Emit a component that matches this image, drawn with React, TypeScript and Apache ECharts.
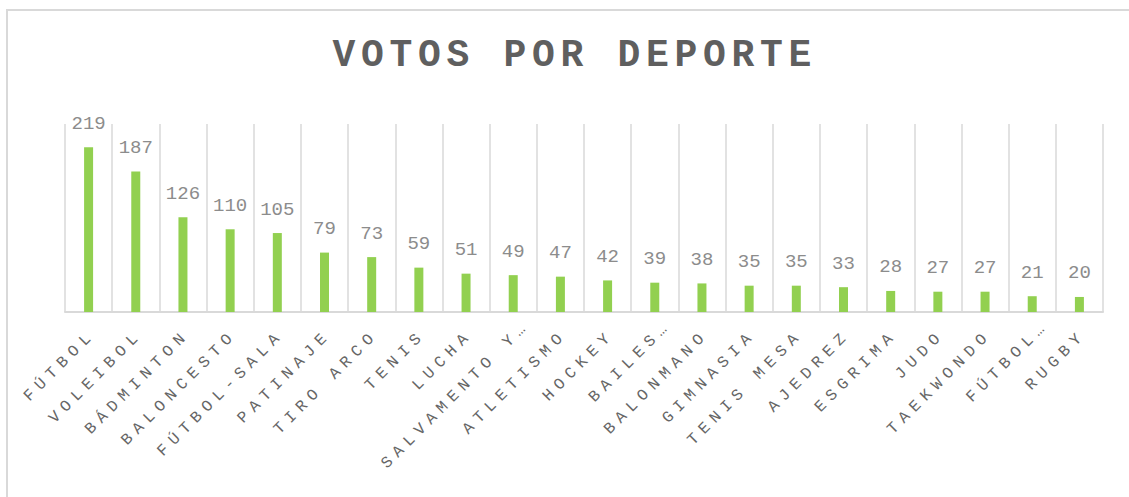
import React, { useEffect, useRef } from "react";
import * as echarts from "echarts";

const TITLE = "VOTOS POR DEPORTE";

const categories: string[] = [
  "FÚTBOL",
  "VOLEIBOL",
  "BÁDMINTON",
  "BALONCESTO",
  "FÚTBOL-SALA",
  "PATINAJE",
  "TIRO ARCO",
  "TENIS",
  "LUCHA",
  "SALVAMENTO Y…",
  "ATLETISMO",
  "HOCKEY",
  "BAILES…",
  "BALONMANO",
  "GIMNASIA",
  "TENIS MESA",
  "AJEDREZ",
  "ESGRIMA",
  "JUDO",
  "TAEKWONDO",
  "FÚTBOL…",
  "RUGBY",
];

const votes: number[] = [
  219, 187, 126, 110, 105, 79, 73, 59, 51, 49, 47, 42, 39, 38, 35, 35, 33, 28, 27, 27, 21, 20,
];

const TITLE_SPACING = 5.7;
const CAT_SPACING = 6;

export default function App() {
  const ref = useRef<HTMLDivElement>(null);

  useEffect(() => {
    const el = ref.current!;
    const chart = echarts.init(el, null, { renderer: "svg" });

    const applySpacing = () => {
      el.querySelectorAll("text").forEach((t) => {
        const s = t.textContent || "";
        if (s === TITLE) {
          (t as SVGTextElement).style.letterSpacing = TITLE_SPACING + "px";
          t.setAttribute("dx", String(TITLE_SPACING / 2));
        } else if (categories.includes(s)) {
          (t as SVGTextElement).style.letterSpacing = CAT_SPACING + "px";
          const extra = s.endsWith("…") ? 14 : 0;
          t.setAttribute("dx", String(CAT_SPACING + extra));
        }
      });
    };

    chart.on("rendered", applySpacing);

    chart.setOption({
      animation: false,
      backgroundColor: "#ffffff",
      graphic: [
        {
          type: "rect",
          shape: { x: 7, y: 10, width: 1300, height: 700 },
          style: { fill: "none", stroke: "#d9d9d9", lineWidth: 2 },
          silent: true,
        },
        {
          type: "text",
          x: 572,
          y: 55,
          style: {
            text: TITLE,
            fill: "#5f5f5f",
            font: 'bold 38px "Liberation Mono", "Courier New", monospace',
            textAlign: "center",
            textVerticalAlign: "middle",
          },
        },
      ],
      grid: { left: 65, right: 26, top: 124, bottom: 185 },
      xAxis: {
        type: "category",
        data: categories,
        axisTick: { show: false },
        axisLine: { show: true, lineStyle: { color: "#d9d9d9", width: 2 } },
        splitLine: { show: true, lineStyle: { color: "#d9d9d9", width: 1.5 } },
        axisLabel: {
          interval: 0,
          rotate: 45,
          margin: 25,
          color: "#666666",
          fontFamily: '"Liberation Mono", "Courier New", monospace',
          fontSize: 16,
        },
      },
      yAxis: {
        type: "value",
        min: 0,
        max: 250,
        show: false,
        splitLine: { show: false },
      },
      series: [
        {
          type: "bar",
          data: votes,
          barWidth: 9,
          itemStyle: { color: "#92d050" },
          label: {
            show: true,
            position: "top",
            distance: 14,
            color: "#8c8c8c",
            fontFamily: '"Liberation Mono", "Courier New", monospace',
            fontSize: 19,
          },
        },
      ],
    });

    applySpacing();
    const t = setTimeout(applySpacing, 50);

    return () => {
      clearTimeout(t);
      chart.dispose();
    };
  }, []);

  return (
    <div
      ref={ref}
      style={{ position: "absolute", left: 0, top: 0, width: 1129, height: 497 }}
    />
  );
}
